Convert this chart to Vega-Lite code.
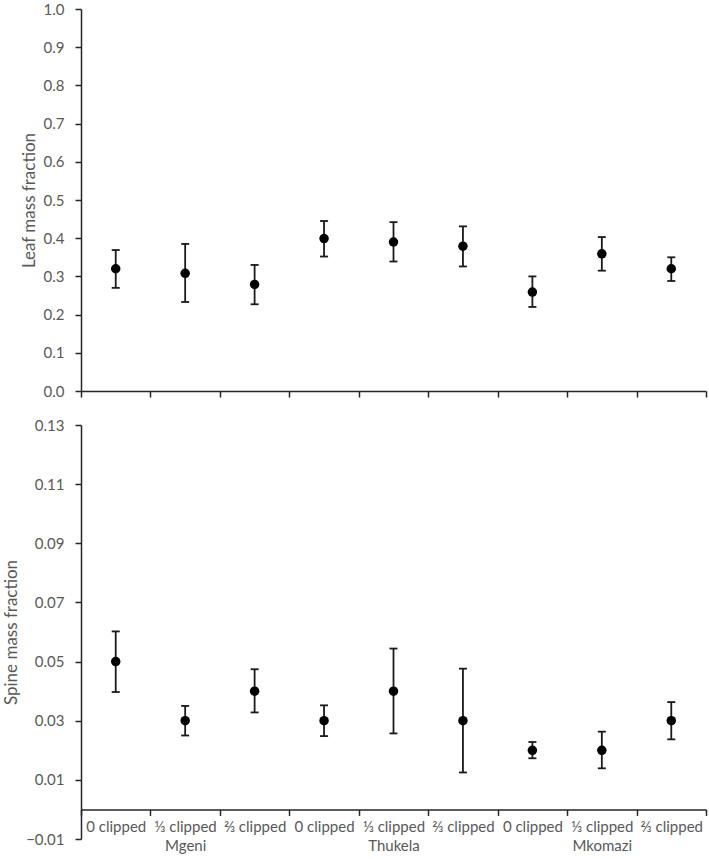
{
  "$schema": "https://vega.github.io/schema/vega-lite/v6.json",
  "padding": {"left": 2, "top": 2, "right": 2, "bottom": 0},
  "autosize": {"type": "pad"},
  "bounds": "flush",
  "spacing": 34,
  "config": {
    "view": {"stroke": null},
    "font": "Lato",
    "axis": {
      "domainColor": "#262626", "tickColor": "#262626", "labelColor": "#595959", "titleColor": "#595959",
      "labelFontSize": 15, "titleFontSize": 17, "titleFontWeight": "normal", "grid": false,
      "domainWidth": 1.5, "tickWidth": 1.5, "labelFont": "Lato", "titleFont": "Lato"
    }
  },
  "datasets": {
    "leaf": [
      {"site": "Mgeni", "treatment": "0 clipped", "cat": "Mgeni|0 clipped", "mean": 0.32, "lo": 0.27, "hi": 0.369},
      {"site": "Mgeni", "treatment": "⅓ clipped", "cat": "Mgeni|⅓ clipped", "mean": 0.308, "lo": 0.233, "hi": 0.385},
      {"site": "Mgeni", "treatment": "⅔ clipped", "cat": "Mgeni|⅔ clipped", "mean": 0.279, "lo": 0.227, "hi": 0.33},
      {"site": "Thukela", "treatment": "0 clipped", "cat": "Thukela|0 clipped", "mean": 0.399, "lo": 0.352, "hi": 0.445},
      {"site": "Thukela", "treatment": "⅓ clipped", "cat": "Thukela|⅓ clipped", "mean": 0.39, "lo": 0.339, "hi": 0.442},
      {"site": "Thukela", "treatment": "⅔ clipped", "cat": "Thukela|⅔ clipped", "mean": 0.379, "lo": 0.326, "hi": 0.431},
      {"site": "Mkomazi", "treatment": "0 clipped", "cat": "Mkomazi|0 clipped", "mean": 0.259, "lo": 0.22, "hi": 0.3},
      {"site": "Mkomazi", "treatment": "⅓ clipped", "cat": "Mkomazi|⅓ clipped", "mean": 0.359, "lo": 0.315, "hi": 0.403},
      {"site": "Mkomazi", "treatment": "⅔ clipped", "cat": "Mkomazi|⅔ clipped", "mean": 0.32, "lo": 0.288, "hi": 0.35}
    ],
    "spine": [
      {"site": "Mgeni", "treatment": "0 clipped", "cat": "Mgeni|0 clipped", "mean": 0.05, "lo": 0.0397, "hi": 0.0602},
      {"site": "Mgeni", "treatment": "⅓ clipped", "cat": "Mgeni|⅓ clipped", "mean": 0.03, "lo": 0.025, "hi": 0.035},
      {"site": "Mgeni", "treatment": "⅔ clipped", "cat": "Mgeni|⅔ clipped", "mean": 0.04, "lo": 0.0328, "hi": 0.0474},
      {"site": "Thukela", "treatment": "0 clipped", "cat": "Thukela|0 clipped", "mean": 0.03, "lo": 0.0248, "hi": 0.0352},
      {"site": "Thukela", "treatment": "⅓ clipped", "cat": "Thukela|⅓ clipped", "mean": 0.04, "lo": 0.0257, "hi": 0.0544},
      {"site": "Thukela", "treatment": "⅔ clipped", "cat": "Thukela|⅔ clipped", "mean": 0.03, "lo": 0.0125, "hi": 0.0476},
      {"site": "Mkomazi", "treatment": "0 clipped", "cat": "Mkomazi|0 clipped", "mean": 0.02, "lo": 0.0173, "hi": 0.0228},
      {"site": "Mkomazi", "treatment": "⅓ clipped", "cat": "Mkomazi|⅓ clipped", "mean": 0.02, "lo": 0.0139, "hi": 0.0263},
      {"site": "Mkomazi", "treatment": "⅔ clipped", "cat": "Mkomazi|⅔ clipped", "mean": 0.03, "lo": 0.0237, "hi": 0.0363}
    ]
  },
  "vconcat": [
    {
      "width": 625,
      "height": 382,
      "data": {"name": "leaf"},
      "encoding": {
        "x": {"field": "cat", "type": "nominal", "sort": null,
          "scale": {"paddingInner": 0, "paddingOuter": 0},
          "axis": {"title": null, "labels": false, "tickBand": "extent", "tickSize": 6}}
      },
      "layer": [
        {"mark": {"type": "rule", "color": "#1a1a1a", "strokeWidth": 1.8},
          "encoding": {
            "y": {"field": "lo", "type": "quantitative", "scale": {"domain": [0, 1], "nice": false},
              "axis": {"title": "Leaf mass fraction", "values": [0, 0.1, 0.2, 0.3, 0.4, 0.5, 0.6, 0.7, 0.8, 0.9, 1.0], "format": ".1f", "tickSize": 6, "labelPadding": 11, "titlePadding": 5, "labelOverlap": false}},
            "y2": {"field": "hi"}}},
        {"mark": {"type": "tick", "color": "#1a1a1a", "size": 8, "thickness": 1.8, "opacity": 1},
          "encoding": {"y": {"field": "lo", "type": "quantitative", "scale": {"domain": [0, 1], "nice": false},
            "axis": {"title": "Leaf mass fraction", "values": [0, 0.1, 0.2, 0.3, 0.4, 0.5, 0.6, 0.7, 0.8, 0.9, 1.0], "format": ".1f", "tickSize": 6, "labelPadding": 11, "titlePadding": 5, "labelOverlap": false}}}},
        {"mark": {"type": "tick", "color": "#1a1a1a", "size": 8, "thickness": 1.8, "opacity": 1},
          "encoding": {"y": {"field": "hi", "type": "quantitative", "scale": {"domain": [0, 1], "nice": false},
            "axis": {"title": "Leaf mass fraction", "values": [0, 0.1, 0.2, 0.3, 0.4, 0.5, 0.6, 0.7, 0.8, 0.9, 1.0], "format": ".1f", "tickSize": 6, "labelPadding": 11, "titlePadding": 5, "labelOverlap": false}}}},
        {"mark": {"type": "point", "filled": true, "size": 90, "color": "#000000", "opacity": 1},
          "encoding": {"y": {"field": "mean", "type": "quantitative", "scale": {"domain": [0, 1], "nice": false},
            "axis": {"title": "Leaf mass fraction", "values": [0, 0.1, 0.2, 0.3, 0.4, 0.5, 0.6, 0.7, 0.8, 0.9, 1.0], "format": ".1f", "tickSize": 6, "labelPadding": 11, "titlePadding": 5, "labelOverlap": false}}}}
      ]
    },
    {
      "width": 625,
      "height": 414,
      "data": {"name": "spine"},
      "encoding": {
        "x": {"field": "cat", "type": "nominal", "sort": null,
          "scale": {"paddingInner": 0, "paddingOuter": 0},
          "axis": {"title": null, "tickBand": "extent", "tickSize": 6, "offset": -29.6, "labelAngle": 0,
            "labelPadding": 4, "labelLineHeight": 19, "labelOverlap": false, "labelBound": false,
            "labelExpr": "split(datum.value, '|')[1] == '⅓ clipped' ? [split(datum.value, '|')[1], split(datum.value, '|')[0]] : split(datum.value, '|')[1]"}}
      },
      "layer": [
        {"mark": {"type": "rule", "color": "#1a1a1a", "strokeWidth": 1.8},
          "encoding": {
            "y": {"field": "lo", "type": "quantitative", "scale": {"domain": [-0.01, 0.13], "nice": false, "zero": false},
              "axis": {"title": "Spine mass fraction", "values": [-0.01, 0.01, 0.03, 0.05, 0.07, 0.09, 0.11, 0.13], "format": ".2f", "tickSize": 6, "labelPadding": 11, "titlePadding": 5, "labelOverlap": false}},
            "y2": {"field": "hi"}}},
        {"mark": {"type": "tick", "color": "#1a1a1a", "size": 8, "thickness": 1.8, "opacity": 1},
          "encoding": {"y": {"field": "lo", "type": "quantitative", "scale": {"domain": [-0.01, 0.13], "nice": false, "zero": false},
            "axis": {"title": "Spine mass fraction", "values": [-0.01, 0.01, 0.03, 0.05, 0.07, 0.09, 0.11, 0.13], "format": ".2f", "tickSize": 6, "labelPadding": 11, "titlePadding": 5, "labelOverlap": false}}}},
        {"mark": {"type": "tick", "color": "#1a1a1a", "size": 8, "thickness": 1.8, "opacity": 1},
          "encoding": {"y": {"field": "hi", "type": "quantitative", "scale": {"domain": [-0.01, 0.13], "nice": false, "zero": false},
            "axis": {"title": "Spine mass fraction", "values": [-0.01, 0.01, 0.03, 0.05, 0.07, 0.09, 0.11, 0.13], "format": ".2f", "tickSize": 6, "labelPadding": 11, "titlePadding": 5, "labelOverlap": false}}}},
        {"mark": {"type": "point", "filled": true, "size": 90, "color": "#000000", "opacity": 1},
          "encoding": {"y": {"field": "mean", "type": "quantitative", "scale": {"domain": [-0.01, 0.13], "nice": false, "zero": false},
            "axis": {"title": "Spine mass fraction", "values": [-0.01, 0.01, 0.03, 0.05, 0.07, 0.09, 0.11, 0.13], "format": ".2f", "tickSize": 6, "labelPadding": 11, "titlePadding": 5, "labelOverlap": false}}}}
      ]
    }
  ]
}
